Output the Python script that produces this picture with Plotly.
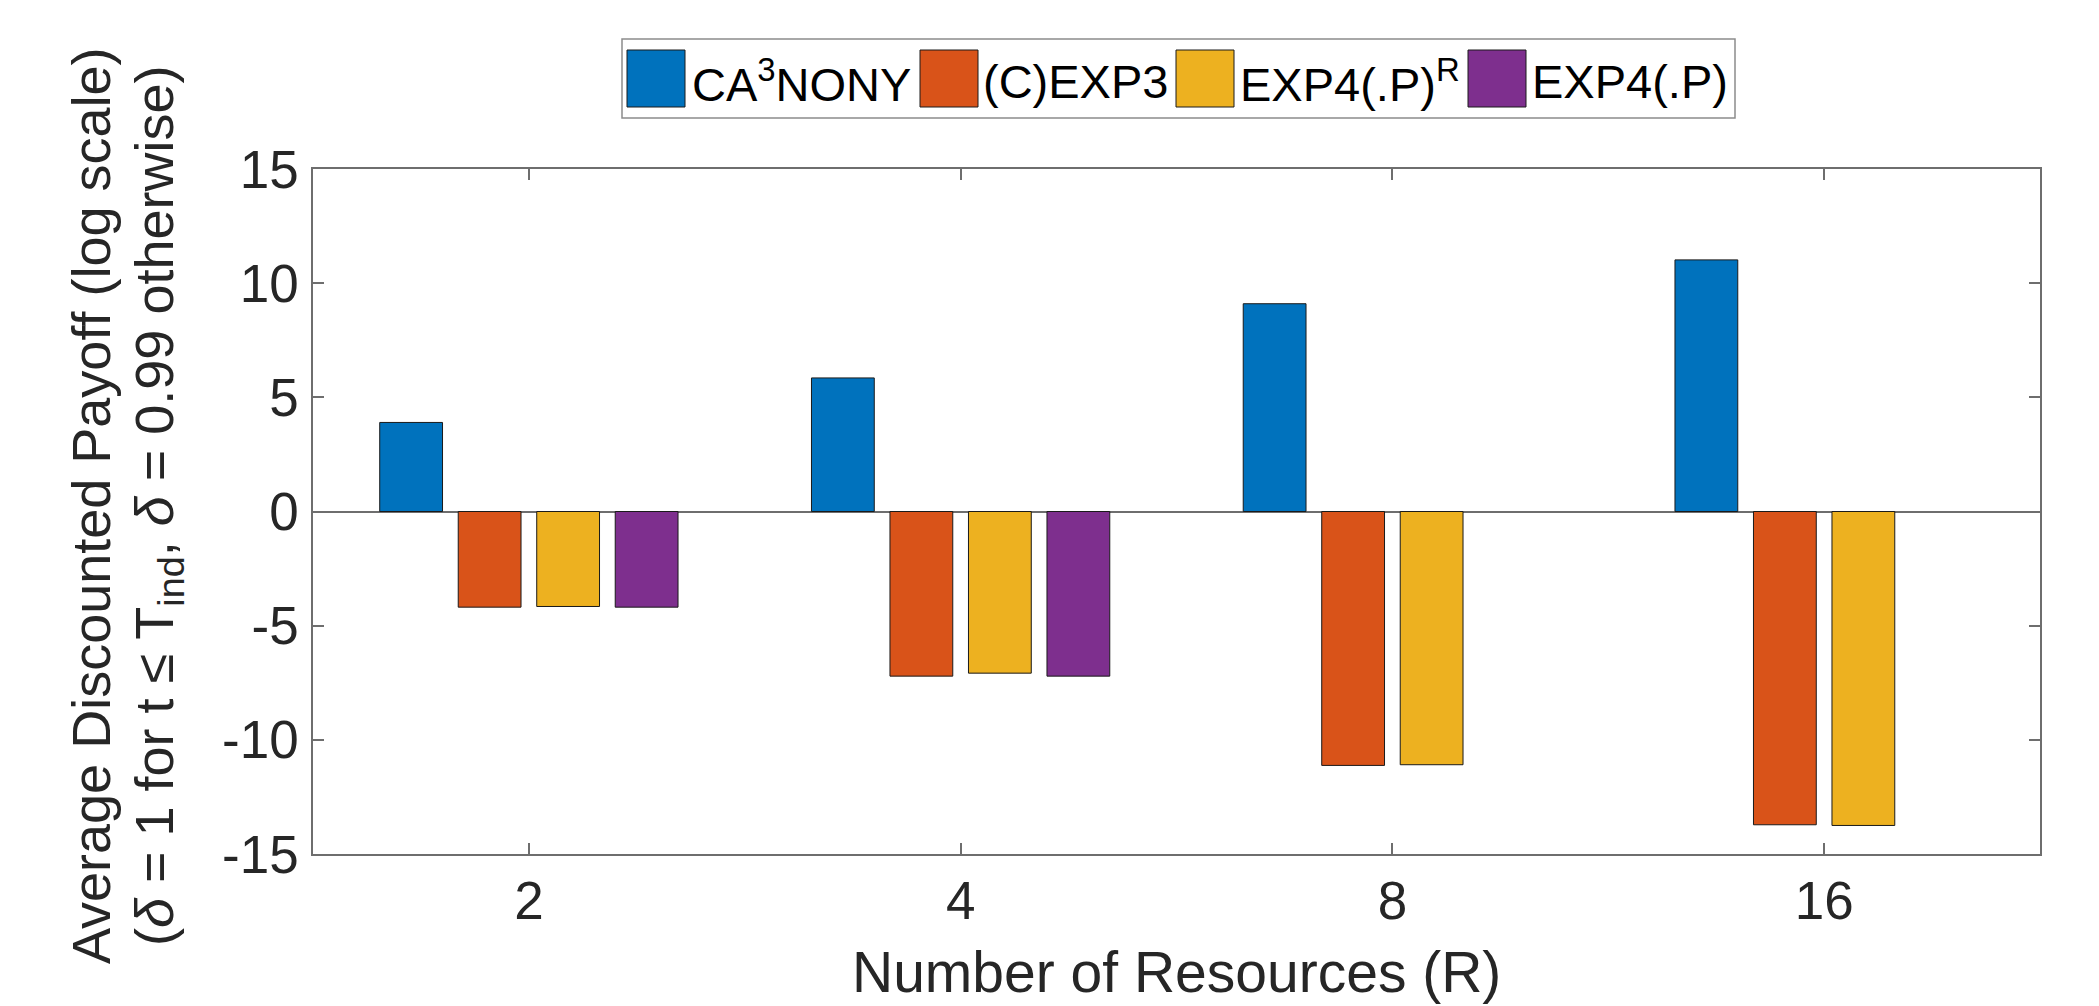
import plotly.graph_objects as go

# Average discounted payoff per number of resources (log scale values)
resources = ["2", "4", "8", "16"]
series_names = ["CA<sup>3</sup>NONY", "(C)EXP3", "EXP4(.P)<sup>R</sup>", "EXP4(.P)"]
ca3nony = [3.9, 5.85, 9.1, 11.02]
cexp3 = [-4.19, -7.21, -11.12, -13.72]
exp4p_r = [-4.16, -7.08, -11.09, -13.75]
exp4p = [-4.19, -7.21, None, None]
series_values = [ca3nony, cexp3, exp4p_r, exp4p]
series_colors = ["#0072BD", "#D95319", "#EDB120", "#7E2F8E"]

y_tick_vals = [-15, -10, -5, 0, 5, 10, 15]
y_tick_text = ["-15", "-10", "-5", "0", "5", "10", "15"]

W, H = 2099, 1006
L, R, T, B = 313, 59, 169, 152
PW, PH = W - L - R, H - T - B

FONT = "Liberation Sans, Arial, Helvetica, sans-serif"
TXT = "#262626"
AX = "#6e6e6e"


def px(x):
    return (x - L) / PW


def py(y):
    return (H - B - y) / PH


fig = go.Figure()
for name, vals, col in zip(series_names, series_values, series_colors):
    fig.add_trace(go.Bar(
        x=resources, y=vals, name=name, showlegend=False,
        marker=dict(color=col, line=dict(color="#1a1a1a", width=1)),
    ))

shapes = []
annotations = []

# legend box with swatches
shapes.append(dict(type="rect", xref="paper", yref="paper",
                   x0=px(622), x1=px(1735), y0=py(118), y1=py(39),
                   line=dict(color="#8c8c8c", width=1.5), fillcolor="white"))
swatch_left = [627, 920, 1176, 1468]
text_left = [690, 981, 1238, 1530]
for name, col, sx, tx in zip(series_names, series_colors, swatch_left, text_left):
    shapes.append(dict(type="rect", xref="paper", yref="paper",
                       x0=px(sx), x1=px(sx + 58), y0=py(107), y1=py(50),
                       line=dict(color="#1a1a1a", width=1), fillcolor=col))
    annotations.append(dict(xref="paper", yref="paper", x=px(tx), y=py(81),
                            xanchor="left", yanchor="middle", showarrow=False,
                            text=name, font=dict(family=FONT, size=47, color="black")))

# axis titles
annotations.append(dict(xref="paper", yref="paper", x=px(1176), y=py(972),
                        xanchor="center", yanchor="middle", showarrow=False,
                        text="Number of Resources (R)",
                        font=dict(family=FONT, size=57, color=TXT)))
annotations.append(dict(xref="paper", yref="paper", x=px(91), y=py(506),
                        xanchor="center", yanchor="middle", showarrow=False,
                        textangle=-90,
                        text="Average Discounted Payoff (log scale)",
                        font=dict(family=FONT, size=54, color=TXT)))
annotations.append(dict(xref="paper", yref="paper", x=px(158), y=py(506),
                        xanchor="center", yanchor="middle", showarrow=False,
                        textangle=-90,
                        text="(<i>δ</i> = 1 for t ≤ T<sub>ind</sub>, <i>δ</i> = 0.99 otherwise)",
                        font=dict(family=FONT, size=54, color=TXT)))

fig.update_layout(
    width=W, height=H,
    margin=dict(l=L, r=R, t=T, b=B, pad=0),
    paper_bgcolor="white", plot_bgcolor="white",
    barmode="group", bargap=0.2727, bargroupgap=0.2,
    font=dict(family=FONT, color=TXT),
    shapes=shapes, annotations=annotations,
    xaxis=dict(
        type="category", range=[-0.5, 3.5],
        showline=True, mirror="ticks", linecolor=AX, linewidth=1.5,
        ticks="inside", ticklen=11, tickwidth=1.5, tickcolor=AX,
        tickfont=dict(family=FONT, size=53, color=TXT),
        ticklabelstandoff=0, showgrid=False,
    ),
    yaxis=dict(
        range=[-15, 15], tickvals=y_tick_vals, ticktext=y_tick_text,
        showline=True, mirror="ticks", linecolor=AX, linewidth=1.5,
        ticks="inside", ticklen=11, tickwidth=1.5, tickcolor=AX,
        tickfont=dict(family=FONT, size=53, color=TXT),
        ticklabelstandoff=2, showgrid=False,
        zeroline=True, zerolinecolor=AX, zerolinewidth=1.5,
    ),
)

fig.write_html("out.html")
